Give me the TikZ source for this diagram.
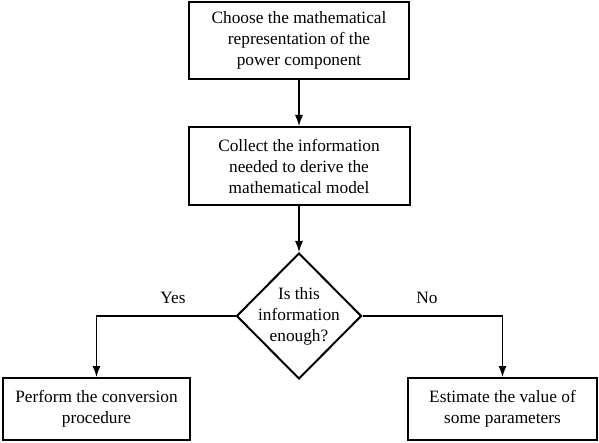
\documentclass[tikz,border=0pt]{standalone}
\usepackage{fontspec}
\setmainfont{Liberation Serif}
\usetikzlibrary{arrows.meta,shapes.geometric}
\begin{document}
\begin{tikzpicture}[x=1pt,y=-1pt,
  box/.style={draw,line width=2pt,align=center,inner sep=0pt,font=\fontsize{17.3}{21}\selectfont},
  dia/.style={draw,shape=diamond,line width=2pt,inner sep=0pt},
  txt/.style={align=center,inner sep=0pt,font=\fontsize{17.3}{21}\selectfont},
  conn/.style={line width=1.2pt,-{Latex[length=11pt,width=8pt]}}]
\useasboundingbox (0,0) rectangle (599,443);
\node[box,minimum width=220pt,minimum height=77pt] (b1) at (299,40.5)
  {Choose the mathematical\\representation of the\\power component};
\node[box,minimum width=221pt,minimum height=78pt] (b2) at (299,166)
  {Collect the information\\needed to derive the\\mathematical model};
\node[dia,minimum width=125pt,minimum height=126pt] (d) at (299,316) {};
\node[txt] (dt) at (d.center) {Is this\\information\\enough?};
\node[box,minimum width=187pt,minimum height=62pt] (bl) at (96.5,409)
  {Perform the conversion\\procedure};
\node[box,minimum width=189pt,minimum height=62pt] (br) at (502.5,409)
  {Estimate the value of\\some parameters};
\draw[conn] (b1) -- (b2);
\draw[conn] (b2) -- (d);
\draw[conn] (d.west) -| (bl.north);
\draw[conn] (d.east) -| (br.north);
\node[txt] (yes) at (173,298) {Yes};
\node[txt] (no) at (427,298) {No};
\end{tikzpicture}
\end{document}
